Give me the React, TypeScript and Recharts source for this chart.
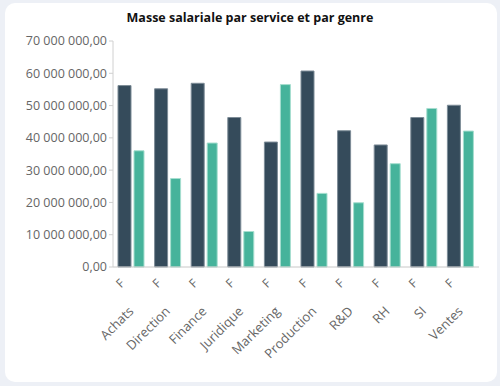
import { BarChart, Bar, XAxis, YAxis } from "recharts";

const services = [
  "Achats",
  "Direction",
  "Finance",
  "Juridique",
  "Marketing",
  "Production",
  "R&D",
  "RH",
  "SI",
  "Ventes",
];
const masseF = [56.2, 55.2, 56.9, 46.3, 38.7, 60.7, 42.2, 37.8, 46.3, 50.1];
const masseH = [36.0, 27.4, 38.4, 11.0, 56.5, 22.8, 19.9, 32.0, 49.1, 42.1];
const genreLabel = "F";
const yTicks = [0, 10, 20, 30, 40, 50, 60, 70];

const data = services.map((name, i) => ({
  name,
  f: masseF[i] * 1000000,
  h: masseH[i] * 1000000,
}));

const font = "'Open Sans', sans-serif";

// 70000000 -> "70 000 000,00"
const formatFr = (v: number) => {
  const [ent, dec] = v.toFixed(2).split(".");
  return ent.replace(/\B(?=(\d{3})+(?!\d))/g, " ") + "," + dec;
};

const ServiceTick = (props: any) => {
  const { x, payload } = props;
  const fx = x - 6;
  const cx = x + 3;
  return (
    <g>
      <g transform={`translate(${fx}, 284) rotate(-45)`}>
        <text textAnchor="end" fontSize={12} fill="#666" fontFamily={font}>
          {genreLabel}
        </text>
      </g>
      <g transform={`translate(${cx}, 312) rotate(-45)`}>
        <text textAnchor="end" fontSize={13} fill="#666" fontFamily={font}>
          {payload.value}
        </text>
      </g>
    </g>
  );
};

export default function App() {
  return (
    <div
      style={{
        position: "absolute",
        left: 0,
        top: 0,
        width: 500,
        height: 386,
        background: "#edf0f6",
        overflow: "hidden",
      }}
    >
      <div
        style={{
          position: "absolute",
          left: 5,
          top: 3,
          width: 492,
          height: 379,
          background: "#fff",
          borderRadius: 10,
        }}
      />
      <div
        style={{
          position: "absolute",
          left: 0,
          top: 9,
          width: 500,
          textAlign: "center",
          fontFamily: font,
          fontWeight: 700,
          fontSize: 12.5,
          color: "#111",
        }}
      >
        Masse salariale par service et par genre
      </div>
      <div style={{ position: "absolute", left: 0, top: 0 }}>
        <BarChart
          width={500}
          height={386}
          data={data}
          margin={{ top: 41, right: 21, bottom: 0, left: 0 }}
          barGap={3}
        >
          <XAxis
            dataKey="name"
            height={119}
            interval={0}
            tickLine={false}
            axisLine={{ stroke: "#c8c8c8" }}
            tick={<ServiceTick />}
          />
          <YAxis
            width={113}
            domain={[0, 70000000]}
            ticks={yTicks.map((t) => t * 1000000)}
            tickFormatter={formatFr}
            tickSize={4}
            tickLine={{ stroke: "#d0d0d0" }}
            axisLine={{ stroke: "#d0d0d0" }}
            tick={{ fontSize: 12.5, fill: "#666", fontFamily: font }}
          />
          <Bar
            dataKey="f"
            fill="#354b5b"
            stroke="#7d8c97"
            strokeWidth={1}
            barSize={13}
            isAnimationActive={false}
          />
          <Bar
            dataKey="h"
            fill="#46b39b"
            stroke="#a6decf"
            strokeWidth={1}
            barSize={10}
            isAnimationActive={false}
          />
        </BarChart>
      </div>
    </div>
  );
}
